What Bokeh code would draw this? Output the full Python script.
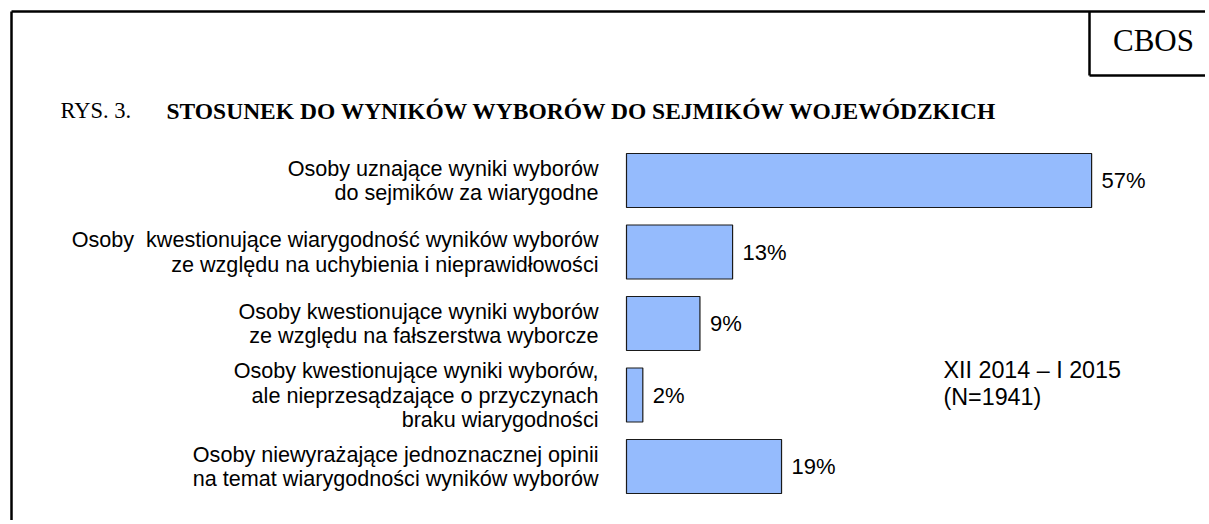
from bokeh.plotting import figure
from bokeh.models import Range1d, Label
from bokeh.core.properties import value
from bokeh.embed import file_html
from bokeh.resources import INLINE

# ---- data ----
categories = [
    "Osoby uznające wyniki wyborów\ndo sejmików za wiarygodne",
    "Osoby\u00a0 kwestionujące wiarygodność wyników wyborów\nze względu na uchybienia i nieprawidłowości",
    "Osoby kwestionujące wyniki wyborów\nze względu na fałszerstwa wyborcze",
    "Osoby kwestionujące wyniki wyborów,\nale nieprzesądzające o przyczynach\nbraku wiarygodności",
    "Osoby niewyrażające jednoznacznej opinii\nna temat wiarygodności wyników wyborów",
]
values = [57, 13, 9, 2, 19]
value_labels = [f"{v}%" for v in values]
title_prefix = "RYS. 3."
title_text = "STOSUNEK DO WYNIKÓW WYBORÓW DO SEJMIKÓW WOJEWÓDZKICH"
source_text = "CBOS"
note_lines = ["XII 2014 – I 2015", "(N=1941)"]

# ---- layout (pixel geometry of the page) ----
W, H = 1205, 520
MARGIN = 0
PX_PER_PCT = 8.16
X0 = 626          # canvas px where 0% sits
ROW0 = 180        # canvas px of first row centre
PITCH = 71.5


def dx(px):
    return (px - MARGIN - X0) / PX_PER_PCT


def dy(py):
    return (py - MARGIN - ROW0) / PITCH


p = figure(width=W, height=H, output_backend="svg", toolbar_location=None,
           x_range=Range1d(dx(MARGIN), dx(MARGIN + W)),
           y_range=Range1d(dy(MARGIN + H), dy(MARGIN)),
           min_border=0)
p.axis.visible = False
p.grid.visible = False
p.outline_line_color = None
p.background_fill_color = "white"
p.border_fill_color = "white"

SANS = value("Liberation Sans")

rows = list(range(len(values)))

p.hbar(y=rows, left=0, right=values, height=54 / PITCH,
       fill_color="#95bbfd", line_color="#1a1a1a", line_width=1.2)

p.text(x=values, y=rows, text=value_labels, x_offset=10,
       text_baseline="middle", text_align="left",
       text_font=SANS, text_font_size="22px", text_color="black")

p.text(x=[0] * len(categories), y=rows, text=categories, x_offset=-28,
       text_baseline="middle", text_align="right", text_line_height=0.97,
       text_font=SANS, text_font_size="21.6px", text_color="black")

# frame border
p.segment(x0=[dx(11), dx(11)], y0=[dy(11), dy(11)],
          x1=[dx(1400), dx(11)], y1=[dy(11), dy(700)],
          line_color="black", line_width=2.5)
# source box
p.segment(x0=[dx(1089), dx(1089)], y0=[dy(11), dy(75)],
          x1=[dx(1089), dx(1400)], y1=[dy(75), dy(75)],
          line_color="black", line_width=2.5)

p.add_layout(Label(x=dx(1153), y=dy(40), text=source_text, text_align="center",
                   text_baseline="middle", text_font="Liberation Serif",
                   text_font_size="31px", text_color="black"))

p.add_layout(Label(x=dx(60), y=dy(110), text=title_prefix, text_align="left",
                   text_baseline="middle", text_font="Liberation Serif",
                   text_font_size="22.5px", text_color="black"))
p.add_layout(Label(x=dx(166), y=dy(110), text=title_text, text_align="left",
                   text_baseline="middle", text_font="Liberation Serif",
                   text_font_style="bold", text_font_size="23.5px", text_color="black"))

for line, centre in zip(note_lines, [369, 396]):
    p.add_layout(Label(x=dx(943), y=dy(centre), text=line, text_align="left",
                       text_baseline="middle", text_font="Liberation Sans",
                       text_font_size="23.3px", text_color="black"))

open("out.html", "w").write(file_html(p, INLINE))
